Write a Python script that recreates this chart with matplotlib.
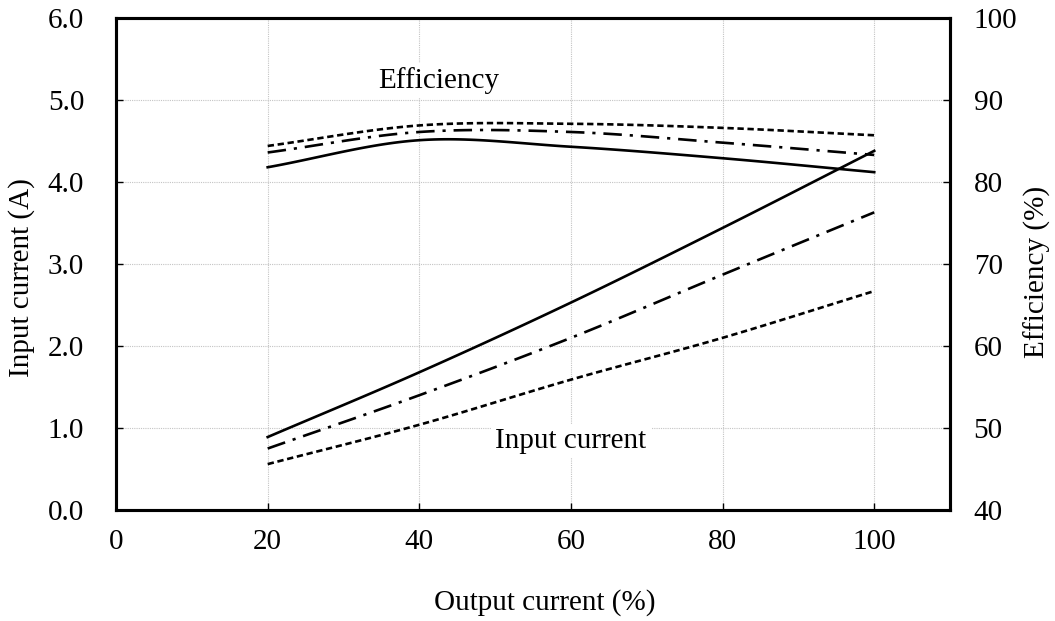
import numpy as np
import matplotlib
matplotlib.use("Agg")
import matplotlib.pyplot as plt

plt.rcParams['font.family'] = ['Liberation Serif', 'DejaVu Serif']

# Data
output_current = [20, 40, 60, 80, 100]
input_solid = [0.89, 1.68, 2.53, 3.44, 4.38]
input_dashdot = [0.75, 1.40, 2.10, 2.87, 3.63]
input_dashed = [0.56, 1.04, 1.59, 2.10, 2.67]
eff_solid = [81.8, 85.1, 84.3, 82.9, 81.2]
eff_dashdot = [83.6, 86.1, 86.1, 84.8, 83.3]
eff_dashed = [84.4, 86.9, 87.1, 86.6, 85.7]

x_ticks = [0, 20, 40, 60, 80, 100]
y_left_ticks = [0, 1, 2, 3, 4, 5, 6]
y_right_ticks = [40, 50, 60, 70, 80, 90, 100]


def smooth(xs, ys, n=30):
    """Catmull-Rom smoothing through the given points (like Excel smoothed lines)."""
    xs = np.asarray(xs, float)
    ys = np.asarray(ys, float)
    px = np.concatenate([[2 * xs[0] - xs[1]], xs, [2 * xs[-1] - xs[-2]]])
    py = np.concatenate([[2 * ys[0] - ys[1]], ys, [2 * ys[-1] - ys[-2]]])
    ox, oy = [], []
    t = np.linspace(0, 1, n, endpoint=False)
    for i in range(1, len(px) - 2):
        for arr, out in ((px, ox), (py, oy)):
            p0, p1, p2, p3 = arr[i - 1], arr[i], arr[i + 1], arr[i + 2]
            out.extend(0.5 * ((2 * p1) + (-p0 + p2) * t +
                              (2 * p0 - 5 * p1 + 4 * p2 - p3) * t ** 2 +
                              (-p0 + 3 * p1 - 3 * p2 + p3) * t ** 3))
    ox.append(xs[-1])
    oy.append(ys[-1])
    return np.array(ox), np.array(oy)


fig = plt.figure(figsize=(10.55, 6.21), dpi=100)
ax = fig.add_axes([0.110, 0.1787, 0.7905, 0.7923])
ax2 = ax.twinx()

lw = 1.9
solid = dict(color='black', lw=lw, linestyle='-')
dashdot = dict(color='black', lw=lw, linestyle=(0, (7, 3, 1.2, 3)))
dashed = dict(color='black', lw=lw, linestyle=(0, (2.4, 1.4)))

ax.plot(*smooth(output_current, input_solid), **solid)
ax.plot(*smooth(output_current, input_dashdot), **dashdot)
ax.plot(*smooth(output_current, input_dashed), **dashed)

ax2.plot(*smooth(output_current, eff_solid), **solid)
ax2.plot(*smooth(output_current, eff_dashdot), **dashdot)
ax2.plot(*smooth(output_current, eff_dashed), **dashed)

ax.set_xlim(0, 110)
ax.set_ylim(0, 6)
ax2.set_ylim(40, 100)
ax.set_xticks(x_ticks)
ax.set_yticks(y_left_ticks)
ax.set_yticklabels([f"{v:.1f}" for v in y_left_ticks])
ax2.set_yticks(y_right_ticks)

ax.grid(True, color='#c4c4c4', linestyle=(0, (1, 1)), linewidth=0.8)
ax.set_axisbelow(True)

fs = 21
for a in (ax, ax2):
    a.tick_params(direction='in', length=5, width=1, labelsize=fs)
    for s in a.spines.values():
        s.set_linewidth(2.2)
ax.tick_params(axis='x', pad=14)
ax.tick_params(axis='y', pad=23)
ax2.tick_params(axis='y', pad=17)

fig.text(22 / 1055, 1 - 278 / 621, "Input current (A)", fontsize=fs,
         rotation=90, ha='center', va='center')
fig.text(1037 / 1055, 1 - 272 / 621, "Efficiency (%)", fontsize=fs,
         rotation=90, ha='center', va='center')
fig.text(545 / 1055, 1 - 603 / 621, "Output current (%)", fontsize=fs,
         ha='center', va='center')

bbox = dict(facecolor='white', edgecolor='none', pad=3)
ax2.text(42.6, 91.5, "Efficiency", fontsize=fs, ha='center', va='baseline',
         bbox=bbox, zorder=5)
ax.text(60.0, 0.76, "Input current", fontsize=fs, ha='center', va='baseline',
        bbox=bbox, zorder=5)

fig.savefig("out.png", dpi=100)
